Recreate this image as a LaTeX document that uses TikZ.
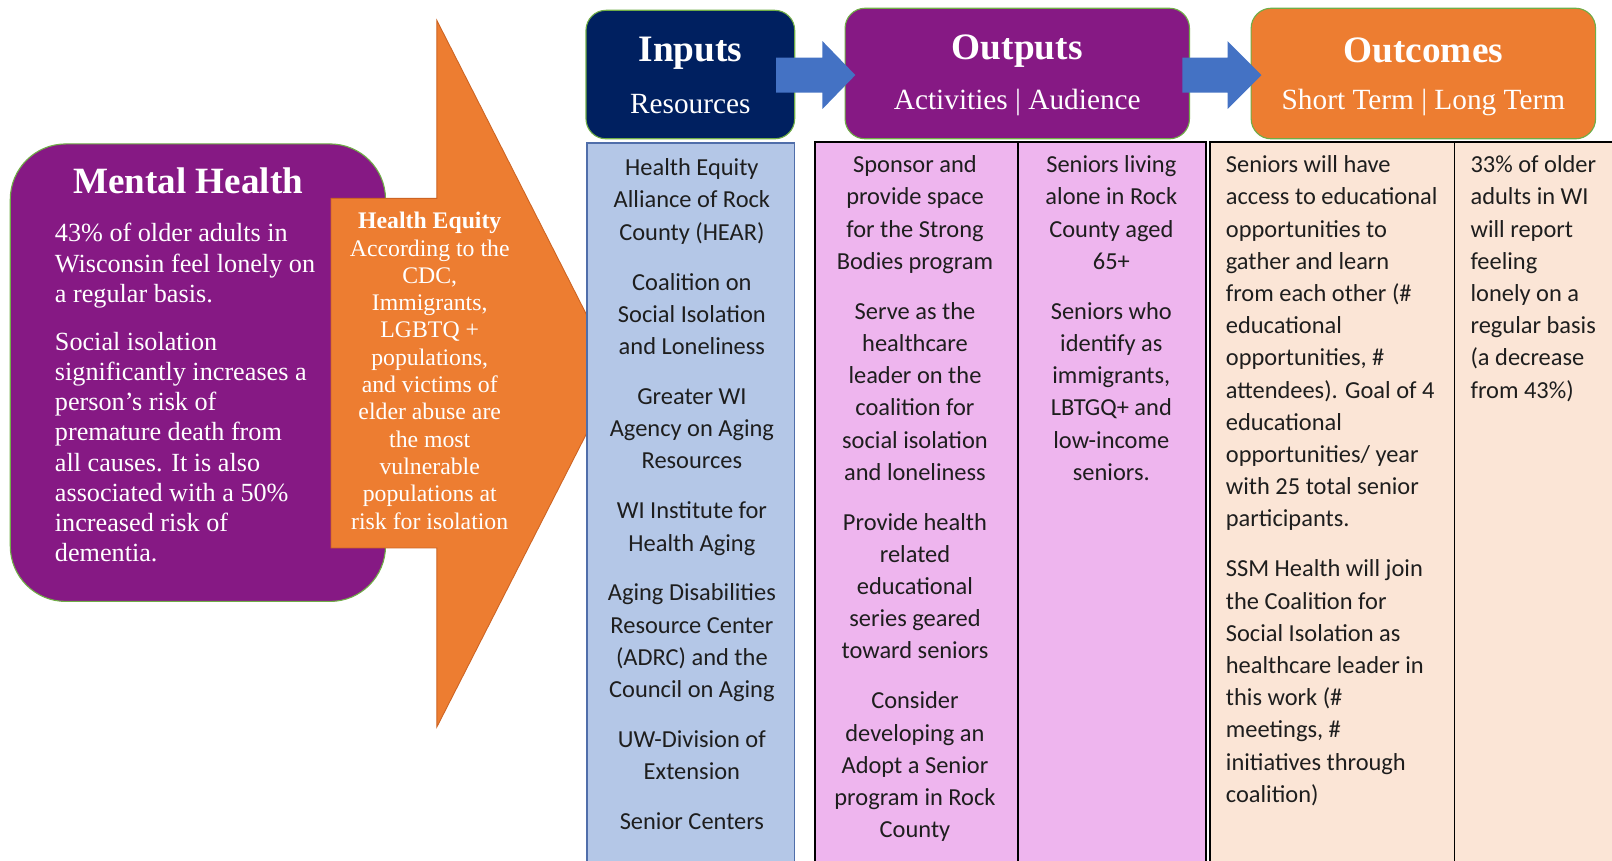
\documentclass[tikz,border=0pt]{standalone}
\usepackage{fontspec}
\setmainfont{Liberation Serif}
\newfontfamily\carl{Carlito}
\usetikzlibrary{fit}
\definecolor{mhpurple}{RGB}{134,25,132}
\definecolor{navy}{RGB}{0,32,96}
\definecolor{orng}{RGB}{237,125,49}
\definecolor{orngdark}{RGB}{205,100,35}
\definecolor{arrowblue}{RGB}{68,114,196}
\definecolor{lightblue}{RGB}{180,199,231}
\definecolor{bluebord}{RGB}{80,110,170}
\definecolor{pinkcol}{RGB}{238,181,238}
\definecolor{peach}{RGB}{251,229,214}
\definecolor{grn}{RGB}{112,173,71}
\definecolor{txt}{RGB}{30,30,30}
\begin{document}
\begin{tikzpicture}[x=0.46296pt,y=-0.46296pt,
  hdrbox/.style={rectangle, rounded corners=9pt, draw=grn, line width=0.5pt, inner sep=0pt, outer sep=0pt},
  hdrtitle/.style={text=white, font=\bfseries\fontsize{16.8}{18}\selectfont, inner sep=0pt},
  hdrsub/.style={text=white, font=\fontsize{13.2}{15}\selectfont, inner sep=0pt},
  coltext/.style={font=\carl\fontsize{11}{14.5}\selectfont, text=txt, inner sep=0pt, anchor=north, align=center},
  coltextl/.style={coltext, align=left, anchor=north west},
  mhtext/.style={text=white, font=\fontsize{11.8}{13.6}\selectfont, inner sep=0pt, anchor=north west, align=left},
  hetext/.style={text=white, font=\fontsize{10.7}{12.3}\selectfont, inner sep=0pt, anchor=north, align=center},
  colbox/.style={rectangle, inner sep=0pt, outer sep=0pt}
]
\useasboundingbox (0,0) rectangle (1568,837);
\fill[white] (0,0) rectangle (1568,837);

% Mental Health rounded box
\node[colbox, fit={(10,140) (375,585)}, fill=mhpurple, draw=grn, line width=0.5pt, rounded corners=25pt] (mh) {};

% Orange arrow
\filldraw[fill=orng, draw=orngdark, line width=0.4pt]
  (322,193) -- (425,193) -- (425,20) -- (600,364) -- (425,707) -- (425,533) -- (322,533) -- cycle;

\node[text=white, font=\bfseries\fontsize{16.7}{18}\selectfont, inner sep=0pt] (mhtitle) at (183,176) {Mental Health};
\node[mhtext] (mhbody) at (53,217) {43\% of older adults in\\Wisconsin feel lonely on\\a regular basis.\\[8pt]
Social isolation\\significantly increases a\\person’s risk of\\premature death from\\all causes. It is also\\associated with a 50\%\\increased risk of\\dementia.};

\node[hetext] (he) at (418,206) {\textbf{Health Equity}\\According to the\\CDC,\\Immigrants,\\LGBTQ +\\populations,\\and victims of\\elder abuse are\\the most\\vulnerable\\populations at\\risk for isolation};

% Header boxes
\node[hdrbox, fill=navy, fit={(570,10) (773,135)}] (inputs) {};
\node[hdrbox, fill=mhpurple, fit={(822,8) (1157,135)}] (outputs) {};
\node[hdrbox, fill=orng, fit={(1217,8) (1552,135)}] (outcomes) {};

% Blue arrows between headers
\fill[arrowblue] (755,56) -- (800,56) -- (800,40) -- (832,73) -- (800,106) -- (800,90) -- (755,90) -- cycle;
\fill[arrowblue] (1150,56) -- (1194,56) -- (1194,40) -- (1227,73) -- (1194,106) -- (1194,90) -- (1150,90) -- cycle;

\node[hdrtitle] (inT) at (671.5,52) {Inputs};
\node[hdrsub] (inS) at (671.5,101) {Resources};
\node[hdrtitle] (outT) at (989.5,50) {Outputs};
\node[hdrsub] (outS) at (989.5,100) {Activities | Audience};
\node[hdrtitle] (ocT) at (1384.5,49) {Outcomes};
\node[hdrsub] (ocS) at (1384.5,100) {Short Term | Long Term};

% Columns
\node[colbox, fit={(571,139) (773,850)}, fill=lightblue, draw=bluebord, line width=0.6pt] (colin) {};
\node[colbox, fit={(793,138) (990,850)}, fill=pinkcol, draw=black, line width=0.7pt] (colact) {};
\node[colbox, fit={(990,138) (1173,850)}, fill=pinkcol, draw=black, line width=0.7pt] (colaud) {};
\draw[black, line width=1.1pt] (colact.north east) -- (colact.south east);
\node[colbox, fit={(1177,138) (1415,850)}, fill=peach, draw=black, line width=0.6pt] (colst) {};
\node[colbox, fit={(1415,138) (1580,850)}, fill=peach, draw=black, line width=0.6pt] (collt) {};

\node[coltext] (tin) at (673,154) {Health Equity\\Alliance of Rock\\County (HEAR)\\[8pt]
Coalition on\\Social Isolation\\and Loneliness\\[8pt]
Greater WI\\Agency on Aging\\Resources\\[8pt]
WI Institute for\\Health Aging\\[8pt]
Aging Disabilities\\Resource Center\\(ADRC) and the\\Council on Aging\\[8pt]
UW-Division of\\Extension\\[8pt]
Senior Centers};

\node[coltext] (tact) at (890,151) {Sponsor and\\provide space\\for the Strong\\Bodies program\\[8pt]
Serve as the\\healthcare\\leader on the\\coalition for\\social isolation\\and loneliness\\[8pt]
Provide health\\related\\educational\\series geared\\toward seniors\\[8pt]
Consider\\developing an\\Adopt a Senior\\program in Rock\\County};

\node[coltext] (taud) at (1081,151) {Seniors living\\alone in Rock\\County aged\\65+\\[8pt]
Seniors who\\identify as\\immigrants,\\LBTGQ+ and\\low-income\\seniors.};

\node[coltextl] (tst) at (1192,151) {Seniors will have\\access to educational\\opportunities to\\gather and learn\\from each other (\#\\educational\\opportunities, \#\\attendees). Goal of 4\\educational\\opportunities/ year\\with 25 total senior\\participants.\\[8pt]
SSM Health will join\\the Coalition for\\Social Isolation as\\healthcare leader in\\this work (\#\\meetings, \#\\initiatives through\\coalition)};

\node[coltextl] (tlt) at (1430,151) {33\% of older\\adults in WI\\will report\\feeling\\lonely on a\\regular basis\\(a decrease\\from 43\%)};
\end{tikzpicture}
\end{document}
